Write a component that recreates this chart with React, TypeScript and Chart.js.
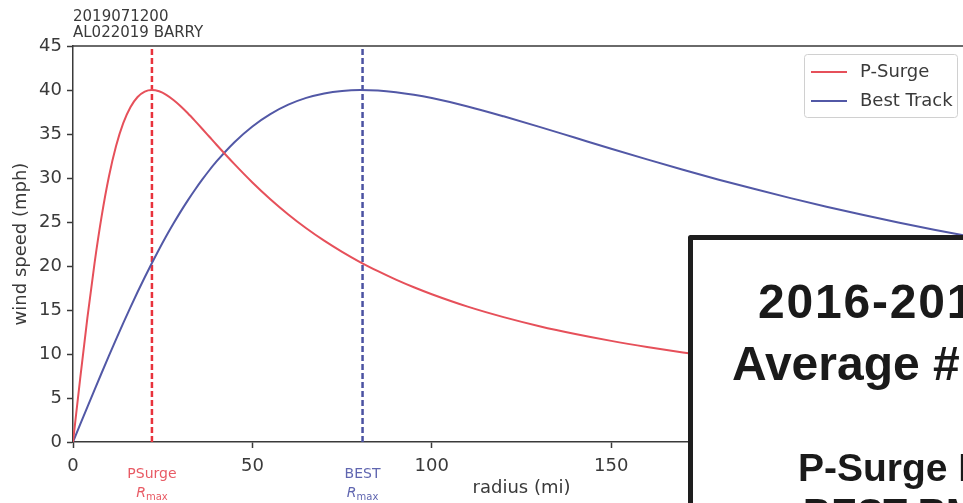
import React, { useEffect, useRef } from "react";
import { Chart, registerables } from "chart.js";

Chart.register(...registerables);

// ---- data ----
const radii = [0, 2, 4, 6, 8, 10, 12, 14, 16, 18, 20, 22, 24, 26, 28, 30, 32, 34, 36, 38, 40, 45, 50, 55, 60, 65, 70, 75, 80, 85, 90, 95, 100, 110, 120, 130, 140, 150, 160, 170, 180, 190, 200, 210, 220, 230, 240, 250];
const psurgeSpeed = [0, 7.21, 14.08, 20.31, 25.69, 30.14, 33.63, 36.24, 38.05, 39.21, 39.82, 40.0, 39.85, 39.45, 38.86, 38.15, 37.35, 36.49, 35.6, 34.69, 33.78, 31.57, 29.49, 27.59, 25.86, 24.29, 22.88, 21.61, 20.45, 19.41, 18.45, 17.58, 16.79, 15.38, 14.19, 13.16, 12.27, 11.49, 10.8, 10.18, 9.63, 9.14, 8.69, 8.29, 7.92, 7.58, 7.27, 6.99];
const bestTrackSpeed = [0, 1.99, 3.97, 5.93, 7.87, 9.79, 11.67, 13.5, 15.3, 17.04, 18.72, 20.34, 21.9, 23.4, 24.82, 26.18, 27.46, 28.67, 29.81, 30.88, 31.88, 34.07, 35.86, 37.26, 38.33, 39.1, 39.61, 39.9, 40.0, 39.94, 39.75, 39.46, 39.08, 38.13, 37.01, 35.81, 34.57, 33.33, 32.12, 30.94, 29.81, 28.74, 27.71, 26.74, 25.82, 24.94, 24.12, 23.34];
const rmaxPsurge = 22;
const rmaxBest = 80.7;
const xTickValues = [0, 50, 100, 150, 200, 250];
const yTickValues = [0, 5, 10, 15, 20, 25, 30, 35, 40, 45];
const seriesLabels = ["P-Surge", "Best Track"];
const rmaxLabels = ["PSurge", "BEST"];
const headerLines = ["2019071200", "AL022019 BARRY"];
const xTitle = "radius (mi)";
const yTitle = "wind speed (mph)";
const overlayLines = ["2016-2019", "Average #", "P-Surge RMW", "BEST RMW"];

const RED = "#e6505a";
const RED_DASH = "#e8323c";
const BLUE = "#5258a6";
const BLUE_DASH = "#4b52a2";
const AXIS = "#3a3a3a";
const TEXT = "#3a3a3a";
const FONT = "'DejaVu Sans', sans-serif";

const decorPlugin = {
  id: "decor",
  afterDraw(chart: any) {
    const ctx = chart.ctx as CanvasRenderingContext2D;
    const area = chart.chartArea;
    const xs = chart.scales.x;
    ctx.save();

    // top spine and right spine
    ctx.strokeStyle = AXIS;
    ctx.lineWidth = 1.5;
    ctx.beginPath();
    ctx.moveTo(area.left, area.top);
    ctx.lineTo(area.right, area.top);
    ctx.lineTo(area.right, area.bottom);
    ctx.stroke();

    // header text
    ctx.fillStyle = TEXT;
    ctx.font = `15px ${FONT}`;
    ctx.textAlign = "left";
    ctx.textBaseline = "alphabetic";
    ctx.fillText(headerLines[0], area.left, 20.5);
    ctx.fillText(headerLines[1], area.left, 36.5);

    // Rmax labels under the axis
    const rm = [
      { v: rmaxPsurge, label: rmaxLabels[0], color: "#e85a64" },
      { v: rmaxBest, label: rmaxLabels[1], color: "#6066b0" },
    ];
    for (const r of rm) {
      const px = xs.getPixelForValue(r.v);
      ctx.fillStyle = r.color;
      ctx.textAlign = "center";
      ctx.textBaseline = "middle";
      ctx.font = `14px ${FONT}`;
      ctx.fillText(r.label, px, 474.5);
      ctx.font = `italic 14px ${FONT}`;
      const rw = ctx.measureText("R").width;
      ctx.font = `10px ${FONT}`;
      const mw = ctx.measureText("max").width;
      const start = px - (rw + mw) / 2;
      ctx.textAlign = "left";
      ctx.font = `italic 14px ${FONT}`;
      ctx.fillText("R", start, 493);
      ctx.font = `10px ${FONT}`;
      ctx.fillText("max", start + rw, 497);
    }

    // legend
    const lx = 804, ly = 54, lw = 153, lh = 63;
    ctx.fillStyle = "rgba(255,255,255,0.85)";
    ctx.strokeStyle = "#d0d0d0";
    ctx.lineWidth = 1;
    ctx.beginPath();
    (ctx as any).roundRect ? (ctx as any).roundRect(lx + 0.5, ly + 0.5, lw, lh, 3) : ctx.rect(lx + 0.5, ly + 0.5, lw, lh);
    ctx.fill();
    ctx.stroke();
    const rows = [
      { label: seriesLabels[0], color: RED, y: 72 },
      { label: seriesLabels[1], color: BLUE, y: 101 },
    ];
    for (const row of rows) {
      ctx.strokeStyle = row.color;
      ctx.lineWidth = 2;
      ctx.beginPath();
      ctx.moveTo(811, row.y);
      ctx.lineTo(847, row.y);
      ctx.stroke();
      ctx.fillStyle = TEXT;
      ctx.font = `18px ${FONT}`;
      ctx.textAlign = "left";
      ctx.textBaseline = "middle";
      ctx.fillText(row.label, 860, row.y);
    }

    // overlay slide box
    ctx.fillStyle = "#ffffff";
    ctx.fillRect(690, 237, 400, 320);
    ctx.strokeStyle = "#1e1e1e";
    ctx.lineWidth = 5;
    ctx.lineJoin = "round";
    ctx.strokeRect(690.5, 237.5, 400, 320);
    ctx.fillStyle = "#1a1a1a";
    ctx.textAlign = "left";
    ctx.textBaseline = "alphabetic";
    ctx.font = "bold 48px 'Liberation Sans', Arial, sans-serif";
    (ctx as any).letterSpacing = "1.8px";
    ctx.fillText(overlayLines[0], 758, 318);
    (ctx as any).letterSpacing = "0px";
    ctx.fillText(overlayLines[1], 732, 380);
    ctx.font = "bold 39px 'Liberation Sans', Arial, sans-serif";
    ctx.fillText(overlayLines[2], 798, 481);
    ctx.fillText(overlayLines[3], 803, 526);

    ctx.restore();
  },
};

export default function App() {
  const canvasRef = useRef<HTMLCanvasElement | null>(null);

  useEffect(() => {
    const canvas = canvasRef.current;
    if (!canvas) return;
    const chart = new Chart(canvas, {
      type: "line",
      data: {
        datasets: [
          {
            label: seriesLabels[0],
            data: radii.map((r, i) => ({ x: r, y: psurgeSpeed[i] })),
            borderColor: RED,
            borderWidth: 2,
            pointRadius: 0,
            cubicInterpolationMode: "monotone",
          },
          {
            label: seriesLabels[1],
            data: radii.map((r, i) => ({ x: r, y: bestTrackSpeed[i] })),
            borderColor: BLUE,
            borderWidth: 2,
            pointRadius: 0,
            cubicInterpolationMode: "monotone",
          },
          {
            label: "psurge rmax",
            data: [
              { x: rmaxPsurge, y: yTickValues[0] },
              { x: rmaxPsurge, y: yTickValues[yTickValues.length - 1] },
            ],
            borderColor: RED_DASH,
            borderWidth: 2.5,
            borderDash: [6, 3],
            pointRadius: 0,
          },
          {
            label: "best rmax",
            data: [
              { x: rmaxBest, y: yTickValues[0] },
              { x: rmaxBest, y: yTickValues[yTickValues.length - 1] },
            ],
            borderColor: BLUE_DASH,
            borderWidth: 2.5,
            borderDash: [6, 3],
            pointRadius: 0,
          },
        ],
      },
      options: {
        responsive: false,
        animation: false,
        events: [],
        layout: { padding: { top: 46, right: 30, left: 0, bottom: 0 } },
        plugins: { legend: { display: false }, tooltip: { enabled: false } },
        scales: {
          x: {
            type: "linear",
            min: xTickValues[0],
            max: xTickValues[xTickValues.length - 1],
            afterFit: (s: any) => {
              s.height = 61;
            },
            afterBuildTicks: (s: any) => {
              s.ticks = xTickValues.map((v) => ({ value: v }));
            },
            grid: { drawOnChartArea: false, drawTicks: true, tickLength: 6, tickWidth: 1.5, tickColor: AXIS },
            border: { display: true, color: AXIS, width: 1.5 },
            ticks: { color: TEXT, font: { family: FONT, size: 18 }, padding: 8, maxRotation: 0, autoSkip: false },
            title: { display: true, text: xTitle, color: TEXT, font: { family: FONT, size: 18 }, padding: { top: 0, bottom: 4 } },
          },
          y: {
            type: "linear",
            min: yTickValues[0],
            max: yTickValues[yTickValues.length - 1],
            afterFit: (s: any) => {
              s.width = 73;
            },
            afterBuildTicks: (s: any) => {
              s.ticks = yTickValues.map((v) => ({ value: v }));
            },
            grid: { drawOnChartArea: false, drawTicks: true, tickLength: 6, tickWidth: 1.5, tickColor: AXIS },
            border: { display: true, color: AXIS, width: 1.5 },
            ticks: { color: TEXT, font: { family: FONT, size: 18 }, padding: 5, autoSkip: false },
            title: { display: true, text: yTitle, color: TEXT, font: { family: FONT, size: 18 }, padding: { top: 11, bottom: 0 } },
          },
        },
      },
      plugins: [decorPlugin],
    } as any);
    return () => chart.destroy();
  }, []);

  return (
    <div style={{ position: "absolute", left: 0, top: 0, width: 963, height: 503, overflow: "hidden", background: "#fff" }}>
      <canvas ref={canvasRef} width={1000} height={503} style={{ width: 1000, height: 503, display: "block" }} />
    </div>
  );
}
